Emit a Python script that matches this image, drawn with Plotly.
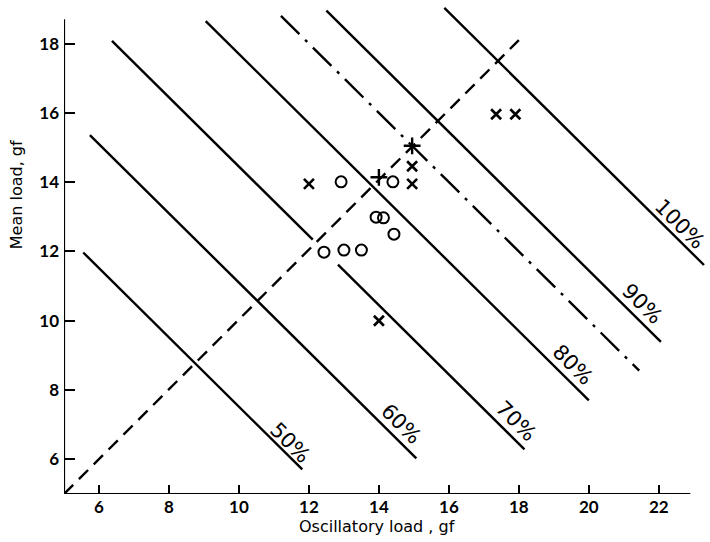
import plotly.graph_objects as go

# ---- data ----
# constant-percentage lines: x + y = const (gf)
pct_labels = ["50%", "60%", "70%", "80%", "90%", "100%"]
pct_sum = [17.52, 21.1, 24.45, 27.7, 31.45, 34.9]
# segments (x start, x end) for each line; the 70% line is broken round a point
pct_segments = [
    [(5.55, 11.81)],
    [(5.74, 15.07)],
    [(6.37, 12.11), (12.83, 18.16)],
    [(9.05, 20.0)],
    [(12.5, 22.06)],
    [(15.87, 23.29)],
]
# label anchor (x, y) for each line label
pct_label_x = [11.47, 14.64, 17.92, 19.54, 21.53, 22.6]
pct_label_y = [6.48, 7.03, 7.12, 8.71, 10.49, 12.8]

# dash-dot line
dashdot_sum = 30.0
dashdot_x = [11.2, 21.44]

# dashed diagonal (mean = oscillatory)
diag_x = [5.0, 18.0]
diag_y = [5.0, 18.1]

# experimental points
circle_x = [12.92, 14.4, 13.92, 14.13, 14.43, 12.43, 13.0, 13.5]
circle_y = [14.01, 14.01, 12.99, 12.97, 12.5, 11.98, 12.04, 12.04]
cross_x = [12.0, 14.95, 14.95, 14.0, 17.35, 17.9]
cross_y = [13.95, 13.95, 14.46, 10.0, 15.96, 15.96]
plus_x = [14.0, 14.95]
plus_y = [14.14, 15.05]

x_ticks = [6, 8, 10, 12, 14, 16, 18, 20, 22]
y_ticks = [6, 8, 10, 12, 14, 16, 18]
x_title = "Oscillatory load , gf"
y_title = "Mean load, gf"

FONT = "DejaVu Sans"
TICKFONT = "Lato"

fig = go.Figure()

line_style = dict(color="black", width=2.4)
for segs, s in zip(pct_segments, pct_sum):
    for x0, x1 in segs:
        fig.add_trace(go.Scatter(x=[x0, x1], y=[s - x0, s - x1], mode="lines",
                                 line=line_style, hoverinfo="skip", showlegend=False))

fig.add_trace(go.Scatter(x=dashdot_x, y=[dashdot_sum - v for v in dashdot_x], mode="lines",
                         line=dict(color="black", width=2.4, dash="26px,8px,3px,8px"),
                         hoverinfo="skip", showlegend=False))

fig.add_trace(go.Scatter(x=diag_x, y=diag_y, mode="lines",
                         line=dict(color="black", width=2.4, dash="13px,8px"),
                         hoverinfo="skip", showlegend=False))

fig.add_trace(go.Scatter(x=circle_x, y=circle_y, mode="markers",
                         marker=dict(symbol="circle-open", size=11, color="black",
                                     line=dict(width=2, color="black")),
                         showlegend=False))
fig.add_trace(go.Scatter(x=cross_x, y=cross_y, mode="markers",
                         marker=dict(symbol="x-thin-open", size=10, color="black",
                                     line=dict(width=2.6, color="black")),
                         showlegend=False))
fig.add_trace(go.Scatter(x=plus_x, y=plus_y, mode="markers",
                         marker=dict(symbol="cross-thin-open", size=12, color="black",
                                     line=dict(width=2.4, color="black")),
                         showlegend=False))

for lab, lx, ly in zip(pct_labels, pct_label_x, pct_label_y):
    fig.add_annotation(x=lx, y=ly, text=lab, showarrow=False, textangle=45,
                       font=dict(family=FONT, size=21, color="black"),
                       xanchor="center", yanchor="middle")

# axis lines
fig.add_shape(type="line", x0=5, x1=22.9, y0=5, y1=5, xref="x", yref="y",
              line=dict(color="black", width=2.2))
fig.add_shape(type="line", x0=5, x1=5, y0=5, y1=18.7, xref="x", yref="y",
              line=dict(color="black", width=2.2))

fig.add_annotation(x=13.94, y=-0.067, xref="x", yref="paper", text=x_title,
                   showarrow=False, font=dict(family=FONT, size=16, color="black"),
                   xanchor="center", yanchor="middle")
fig.add_annotation(x=-0.073, y=13.63, xref="paper", yref="y", text=y_title,
                   showarrow=False, textangle=-90,
                   font=dict(family=FONT, size=16, color="black"),
                   xanchor="center", yanchor="middle")

fig.update_xaxes(range=[5, 23.32], tickvals=x_ticks, ticktext=[str(v) for v in x_ticks],
                 ticks="inside", ticklen=9, tickwidth=2, tickcolor="black",
                 showgrid=False, zeroline=False, showline=False, automargin=False,
                 tickfont=dict(family=TICKFONT, size=17, color="black", weight="bold"),
                 ticklabelstandoff=1)
fig.update_yaxes(range=[5, 19.2], tickvals=y_ticks, ticktext=[str(v) for v in y_ticks],
                 ticks="inside", ticklen=11, tickwidth=2, tickcolor="black",
                 showgrid=False, zeroline=False, showline=False, automargin=False,
                 tickfont=dict(family=TICKFONT, size=17, color="black", weight="bold"),
                 ticklabelstandoff=4)

fig.update_layout(width=710, height=542, margin=dict(l=64, r=5, t=2, b=48),
                  plot_bgcolor="white", paper_bgcolor="white", showlegend=False)

fig.write_html("out.html", config={"displayModeBar": False},
               post_script="document.body.style.margin='0px';"
                           "document.body.style.overflow='hidden';")
